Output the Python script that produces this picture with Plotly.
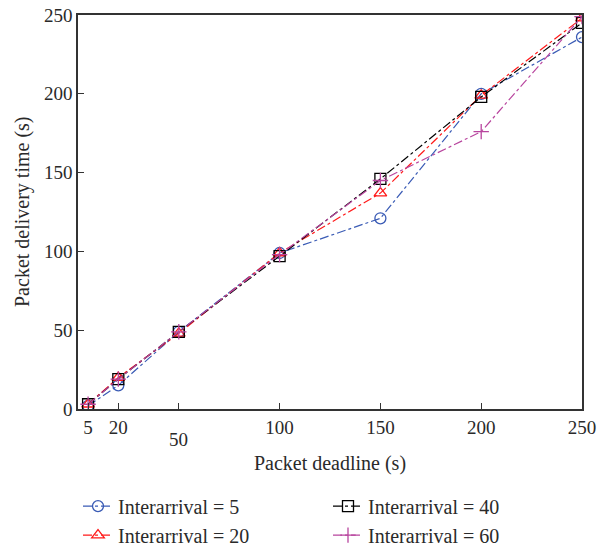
import plotly.graph_objects as go

deadline = [5, 20, 50, 100, 150, 200, 250]
ia5 = [2, 15, 49, 99, 121, 200, 236]
ia20 = [3, 20, 48, 99, 137, 199, 248]
ia40 = [3, 19, 49, 97, 146, 198, 245]
ia60 = [3, 19, 49, 98, 145, 176, 249]

x_tickvals = [5, 20, 50, 100, 150, 200, 250]
x_ticktext = ["5", "20", "", "100", "150", "200", "250"]
y_tickvals = [0, 50, 100, 150, 200, 250]

series = [
    ("Interarrival = 5", ia5, "#3a5bb5", "circle-open", 1),
    ("Interarrival = 20", ia20, "#ff1a1a", "triangle-up-open", 3),
    ("Interarrival = 40", ia40, "#000000", "square-open", 2),
    ("Interarrival = 60", ia60, "#b8459e", "cross-thin-open", 4),
]

FONT = "Liberation Serif"
FS = 19
TFS = 20
TXT = "#2a2a2a"
fig = go.Figure()
for name, ys, col, sym, rank in series:
    fig.add_trace(go.Scatter(
        x=deadline, y=ys, name=name, mode="lines+markers",
        line=dict(color=col, width=1.2, dash="dashdot"),
        marker=dict(symbol=sym, size=11, color=col, line=dict(color=col, width=1.3)),
        legendrank=rank,
    ))

fig.add_annotation(x=50, y=-0.045, xref="x", yref="paper", text="50",
                   showarrow=False, yanchor="top", font=dict(family=FONT, size=FS, color=TXT))
fig.add_annotation(x=0, y=0.5, xref="paper", yref="paper", xshift=-56,
                   xanchor="center", yanchor="middle",
                   text="Packet delivery time (s)", textangle=-90, showarrow=False,
                   font=dict(family=FONT, size=TFS, color=TXT))

axis_common = dict(showline=True, linecolor="#333", linewidth=1.5, mirror=True,
                   ticks="inside", ticklen=6, tickcolor="#333", showgrid=False,
                   zeroline=False, ticklabeloverflow="allow",
                   tickfont=dict(family=FONT, size=FS, color=TXT))
fig.update_xaxes(range=[0, 250], tickvals=x_tickvals, ticktext=x_ticktext, automargin=False,
                 title=dict(text="Packet deadline (s)", font=dict(family=FONT, size=TFS, color=TXT), standoff=19),
                 **axis_common)
fig.update_yaxes(range=[0, 250], tickvals=y_tickvals, automargin=False, **axis_common)

fig.update_layout(
    width=600, height=538,
    margin=dict(l=70, r=26, t=7, b=137, autoexpand=False),
    plot_bgcolor="white", paper_bgcolor="white",
    font=dict(family=FONT, size=FS, color=TXT),
    legend=dict(orientation="h", x=0.0, xanchor="left", y=-0.197, yanchor="top",
                entrywidth=205, entrywidthmode="pixels", tracegroupgap=0,
                font=dict(family=FONT, size=TFS, color=TXT), bgcolor="rgba(0,0,0,0)"),
    showlegend=True,
)

fig.write_html("out.html")
